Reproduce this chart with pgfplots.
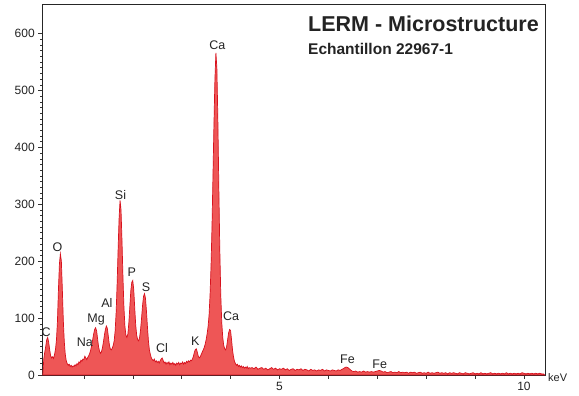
\documentclass[border=0pt]{standalone}
\usepackage{pgfplots}
\pgfplotsset{compat=1.18}
\usepackage{fontspec}
\setmainfont{Liberation Sans}
\definecolor{specfill}{RGB}{238,86,86}
\definecolor{specline}{RGB}{215,18,30}
\definecolor{txt}{RGB}{35,35,35}
\begin{document}
\begin{tikzpicture}
\begin{axis}[
  scale only axis,
  width=502.7pt, height=371pt,
  xmin=0.15, xmax=10.43, ymin=0, ymax=652,
  axis line style={black!85, line width=0.7pt},
  tick align=outside,
  xtick={1,2,3,4,5,6,7,8,9,10},
  xticklabels={,,,,5,,,,,10},
  ytick={0,100,200,300,400,500,600},
  minor y tick num=9,
  major tick length=4pt, minor tick length=2pt,
  tick style={black!80, line width=0.5pt},
  xtick pos=bottom, ytick pos=left,
  tick label style={font=\fontsize{12}{14}\selectfont, text=txt},
  /pgf/number format/assume math mode=true,
  clip=false,
]
\addplot[fill=specfill, draw=specline, line width=0.7pt] coordinates {
(0.16,0) (0.18,28) (0.20,40) (0.22,50) (0.24,62) (0.26,66) (0.28,58) (0.30,45)
(0.32,34) (0.34,30) (0.36,32) (0.38,29) (0.40,36) (0.42,45) (0.44,62) (0.46,95)
(0.48,150) (0.50,195) (0.52,213) (0.54,200) (0.56,150) (0.58,95) (0.60,58) (0.62,36)
(0.64,25) (0.66,20) (0.68,17) (0.70,19) (0.72,15) (0.74,17) (0.76,14) (0.78,16)
(0.80,15) (0.82,18) (0.84,16) (0.86,20) (0.88,18) (0.90,23) (0.92,21) (0.94,26)
(0.96,24) (0.98,28) (1.00,27) (1.02,33) (1.04,30) (1.06,27) (1.08,31) (1.10,34)
(1.12,38) (1.14,44) (1.16,52) (1.18,62) (1.20,72) (1.22,80) (1.24,83) (1.26,78)
(1.28,64) (1.30,50) (1.32,42) (1.34,38) (1.36,41) (1.38,48) (1.40,58) (1.42,70)
(1.44,80) (1.46,86) (1.48,82) (1.50,68) (1.52,54) (1.54,46) (1.56,44) (1.58,47)
(1.60,52) (1.62,60) (1.64,78) (1.66,110) (1.68,160) (1.70,220) (1.72,275) (1.74,307)
(1.76,290) (1.78,235) (1.80,170) (1.82,118) (1.84,85) (1.86,70) (1.88,66) (1.90,72)
(1.92,92) (1.94,120) (1.96,148) (1.98,163) (2.00,166) (2.02,150) (2.04,118) (2.06,88)
(2.08,70) (2.10,62) (2.12,60) (2.14,66) (2.16,80) (2.18,100) (2.20,122) (2.22,138)
(2.24,143) (2.26,135) (2.28,112) (2.30,85) (2.32,60) (2.34,44) (2.36,36) (2.38,30)
(2.40,27) (2.42,25) (2.44,28) (2.46,23) (2.48,25) (2.50,22) (2.52,24) (2.54,21)
(2.56,25) (2.58,28) (2.60,30) (2.62,26) (2.64,21) (2.66,23) (2.68,19) (2.70,22)
(2.72,20) (2.74,23) (2.76,18) (2.78,21) (2.80,19) (2.82,22) (2.84,18) (2.86,20)
(2.88,17) (2.90,21) (2.92,19) (2.94,22) (2.96,18) (2.98,21) (3.00,20) (3.02,23)
(3.04,19) (3.06,22) (3.08,20) (3.10,24) (3.12,22) (3.14,25) (3.16,23) (3.18,26)
(3.20,25) (3.22,28) (3.24,33) (3.26,40) (3.28,45) (3.30,46) (3.32,40) (3.34,33)
(3.36,30) (3.38,32) (3.40,36) (3.42,40) (3.44,44) (3.46,48) (3.48,54) (3.50,62)
(3.52,72) (3.54,85) (3.56,105) (3.58,140) (3.60,190) (3.62,260) (3.64,350) (3.66,440)
(3.68,520) (3.70,566) (3.72,540) (3.74,450) (3.76,330) (3.78,220) (3.80,140) (3.82,92)
(3.84,66) (3.86,52) (3.88,46) (3.90,44) (3.92,50) (3.94,62) (3.96,74) (3.98,80)
(4.00,78) (4.02,62) (4.04,44) (4.06,32) (4.08,24) (4.10,20) (4.12,17) (4.14,19)
(4.16,15) (4.18,17) (4.20,14) (4.22,16) (4.24,13) (4.26,15) (4.28,12) (4.30,14)
(4.32,12) (4.34,15) (4.36,11) (4.38,13) (4.40,12)
(4.44,13) (4.48,11) (4.52,14) (4.56,10) (4.60,12) (4.64,13) (4.68,10) (4.72,12)
(4.76,9) (4.80,11) (4.84,13) (4.88,10) (4.92,12) (4.96,9) (5.00,11) (5.04,10)
(5.08,12) (5.12,9) (5.16,11) (5.20,8) (5.24,10) (5.28,11) (5.32,8) (5.36,10)
(5.40,9) (5.44,11) (5.48,8) (5.52,10) (5.56,9) (5.60,7) (5.64,10) (5.68,8)
(5.72,9) (5.76,7) (5.80,9) (5.84,8) (5.88,10) (5.92,7) (5.96,9) (6.00,8)
(6.04,7) (6.08,9) (6.12,8) (6.16,7) (6.20,9) (6.24,8) (6.28,10) (6.32,12)
(6.36,14) (6.40,13) (6.44,10) (6.48,7) (6.52,6) (6.56,7) (6.60,5) (6.64,6)
(6.68,5) (6.72,7) (6.76,5) (6.80,6) (6.84,5) (6.88,6) (6.92,5) (6.96,6)
(7.00,7) (7.04,8) (7.08,7) (7.12,5) (7.16,6) (7.20,4) (7.24,5) (7.28,6)
(7.32,4) (7.36,5) (7.40,4) (7.44,6) (7.48,4) (7.52,5) (7.56,4) (7.60,5)
(7.64,3) (7.68,5) (7.72,4) (7.76,5) (7.80,3) (7.84,4) (7.88,5) (7.92,3)
(7.96,4) (8.00,3) (8.04,5) (8.08,3) (8.12,4) (8.16,3) (8.20,4) (8.24,5)
(8.28,3) (8.32,4) (8.36,3) (8.40,4) (8.44,2) (8.48,4) (8.52,3) (8.56,4)
(8.60,3) (8.64,2) (8.68,4) (8.72,3) (8.76,2) (8.80,4) (8.84,3) (8.88,2)
(8.92,3) (8.96,4) (9.00,2) (9.04,3) (9.08,2) (9.12,4) (9.16,2) (9.20,3)
(9.24,2) (9.28,3) (9.32,4) (9.36,2) (9.40,3) (9.44,2) (9.48,3) (9.52,2)
(9.56,3) (9.60,2) (9.64,4) (9.68,2) (9.72,3) (9.76,2) (9.80,3) (9.84,2)
(9.88,3) (9.92,2) (9.96,4) (10.00,3) (10.04,2) (10.08,3) (10.12,2) (10.16,3)
(10.20,2) (10.24,3) (10.28,2) (10.32,3) (10.36,2) (10.40,2) (10.42,0)
} \closedcycle;
\begin{scope}[every node/.style={font=\fontsize{12.5}{14}\selectfont, text=txt, inner sep=0pt}]
\node at (axis cs:0.23,75) {C};
\node at (axis cs:0.46,224) {O};
\node at (axis cs:1.02,57) {Na};
\node at (axis cs:1.25,97) {Mg};
\node at (axis cs:1.47,127) {Al};
\node at (axis cs:1.75,317) {Si};
\node at (axis cs:1.98,180) {P};
\node at (axis cs:2.27,154) {S};
\node at (axis cs:2.60,48) {Cl};
\node at (axis cs:3.28,60) {K};
\node at (axis cs:3.73,580) {Ca};
\node at (axis cs:4.01,104) {Ca};
\node at (axis cs:6.39,28) {Fe};
\node at (axis cs:7.05,19) {Fe};
\end{scope}
\end{axis}
\node[anchor=base west, inner sep=0pt, font=\bfseries\fontsize{21.5}{25}\selectfont, text=txt]
  at ([shift={(265.7pt,-28pt)}]current axis.north west) {LERM - Microstructure};
\node[anchor=base west, inner sep=0pt, font=\bfseries\fontsize{15.5}{18}\selectfont, text=txt]
  at ([shift={(265.7pt,-51pt)}]current axis.north west) {Echantillon 22967-1};
\node[anchor=west, inner sep=0pt, font=\fontsize{11}{12}\selectfont, text=txt]
  at ([shift={(3pt,-3pt)}]current axis.south east) {keV};
\pgfresetboundingbox
\path ([shift={(-42.3pt,-21pt)}]current axis.south west) rectangle ([shift={(34pt,4pt)}]current axis.north east);
\end{tikzpicture}
\end{document}
